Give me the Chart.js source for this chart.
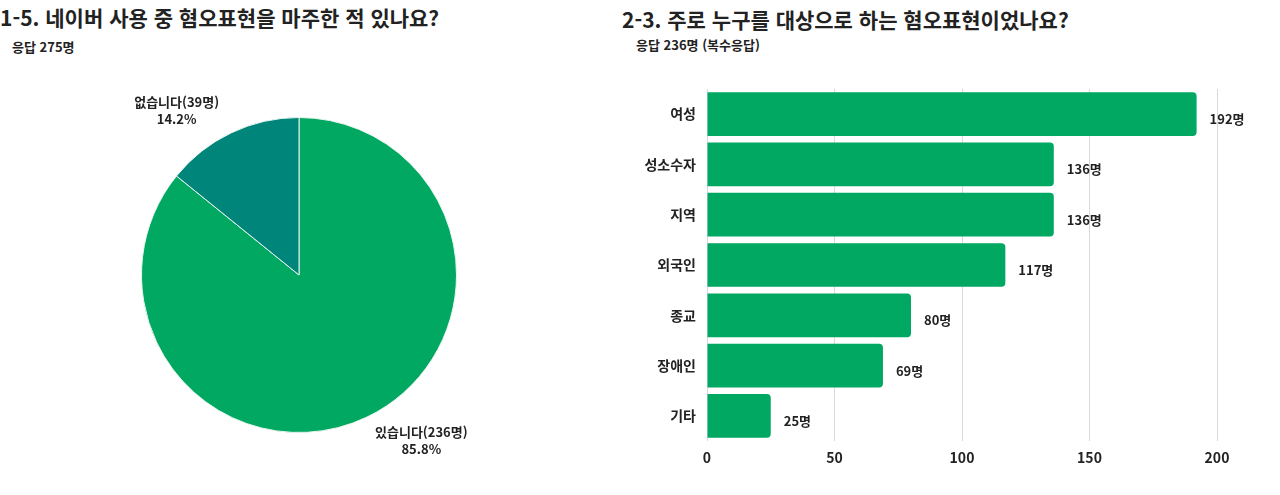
<!DOCTYPE html>
<html lang="ko">
<head>
<meta charset="utf-8">
<script src="https://cdn.jsdelivr.net/npm/chart.js@4"></script>
<style>
  html, body { margin: 0; padding: 0; background: #fff; }
  body { width: 1280px; height: 495px; position: relative; overflow: hidden;
         font-family: "Noto Sans CJK KR", "Noto Sans", sans-serif; color: #222; }
  .title { position: absolute; font-size: 21px; font-weight: 700; white-space: nowrap; line-height: 1; }
  .sub { position: absolute; font-size: 13px; font-weight: 700; white-space: nowrap; line-height: 1; }
  .box { position: absolute; }
</style>
</head>
<body>
<div class="title" style="left:0px; top:7px;">1-5. 네이버 사용 중 혐오표현을 마주한 적 있나요?</div>
<div class="sub" style="left:12px; top:40px;">응답 275명</div>
<div class="title" style="left:622px; top:9px;">2-3. 주로 누구를 대상으로 하는 혐오표현이었나요?</div>
<div class="sub" style="left:636px; top:38px;">응답 236명 (복수응답)</div>

<div class="box" style="left:0; top:0; width:600px; height:495px;"><canvas id="pie"></canvas></div>
<div class="box" style="left:620px; top:60px; width:660px; height:435px;"><canvas id="bar"></canvas></div>

<script>
const FONT = '"Noto Sans CJK KR", "Noto Sans", sans-serif';
//pie data
const pieLabels = ['있습니다', '없습니다'];
const pieValues = [236, 39];
const pieColors = ['#00a862', '#00857a'];
//bar data
const barLabels = ['여성', '성소수자', '지역', '외국인', '종교', '장애인', '기타'];
const barValues = [192, 136, 136, 117, 80, 69, 25];
const xTicks = [0, 50, 100, 150, 200];

//labels outside the pie: name(count) + percent
const pieLabelPlugin = {
  id: 'pieLabels',
  afterDatasetsDraw(chart) {
    const ctx = chart.ctx;
    const total = pieValues.reduce((a, b) => a + b, 0);
    const meta = chart.getDatasetMeta(0);
    ctx.save();
    ctx.fillStyle = '#222';
    ctx.font = '700 13px ' + FONT;
    ctx.textAlign = 'center';
    ctx.textBaseline = 'middle';
    meta.data.forEach((arc, i) => {
      let mid = (arc.startAngle + arc.endAngle) / 2 + Math.PI / 2; // 0 = top
      mid = ((mid % (2 * Math.PI)) + 2 * Math.PI) % (2 * Math.PI);
      // push label a bit away from the vertical axis
      const push = 11 * Math.PI / 180;
      if (mid < Math.PI / 2) mid += push;
      else if (mid < Math.PI) mid -= push;
      else if (mid < 1.5 * Math.PI) mid += push;
      else mid -= push;
      const d = arc.outerRadius * 1.305;
      const x = arc.x + Math.sin(mid) * d;
      const y = arc.y - Math.cos(mid) * d;
      const pct = (pieValues[i] / total * 100).toFixed(1) + '%';
      ctx.fillText(pieLabels[i] + '(' + pieValues[i] + '명)', x, y - 8);
      ctx.fillText(pct, x, y + 9);
    });
    ctx.restore();
  }
};

new Chart(document.getElementById('pie'), {
  type: 'pie',
  plugins: [pieLabelPlugin],
  data: {
    labels: pieLabels,
    datasets: [{ data: pieValues, backgroundColor: pieColors, borderColor: '#e8f5ee', borderWidth: 1 }]
  },
  options: {
    responsive: true,
    maintainAspectRatio: false,
    animation: false,
    layout: { padding: { top: 117, bottom: 62, left: 141, right: 143 } },
    plugins: { legend: { display: false }, tooltip: { enabled: false } }
  }
});

//value labels right of each bar
const barLabelPlugin = {
  id: 'barLabels',
  afterDatasetsDraw(chart) {
    const ctx = chart.ctx;
    const meta = chart.getDatasetMeta(0);
    ctx.save();
    ctx.fillStyle = '#222';
    ctx.font = '700 13px ' + FONT;
    ctx.textAlign = 'left';
    ctx.textBaseline = 'middle';
    meta.data.forEach((bar, i) => {
      ctx.fillText(barValues[i] + '명', bar.x + 13, bar.y + 5);
    });
    ctx.restore();
  }
};

new Chart(document.getElementById('bar'), {
  type: 'bar',
  plugins: [barLabelPlugin],
  data: {
    labels: barLabels,
    datasets: [{
      data: barValues,
      backgroundColor: '#00a862',
      borderRadius: 4,
      borderSkipped: 'start',
      barPercentage: 0.87,
      categoryPercentage: 1
    }]
  },
  options: {
    indexAxis: 'y',
    responsive: true,
    maintainAspectRatio: false,
    animation: false,
    layout: { padding: { top: 29, right: 63, bottom: 20, left: 0 } },
    plugins: { legend: { display: false }, tooltip: { enabled: false } },
    scales: {
      x: {
        min: 0,
        max: 200,
        afterBuildTicks: (scale) => { scale.ticks = xTicks.map(v => ({ value: v })); },
        afterFit: (scale) => { scale.height = 34; },
        grid: { color: '#d9d9d9', drawTicks: false },
        border: { display: false },
        ticks: { color: '#222', padding: 8, font: { family: FONT, size: 14, weight: '700' } }
      },
      y: {
        afterFit: (scale) => { scale.width = 87; },
        grid: { display: false },
        border: { display: false },
        ticks: { color: '#222', padding: 3, font: { family: FONT, size: 14, weight: '700' } }
      }
    }
  }
});
</script>
</body>
</html>
